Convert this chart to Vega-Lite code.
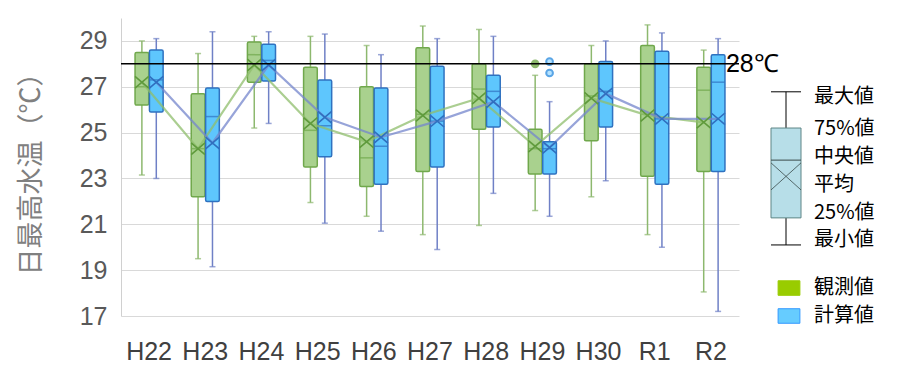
{
  "$schema": "https://vega.github.io/schema/vega-lite/v6.json",
  "padding": {"left": 17, "top": 18, "right": 0, "bottom": 0},
  "background": "white",
  "bounds": "flush",
  "spacing": 20,
  "config": {"view": {"stroke": null}},
  "datasets": {
    "stats": [
      {"year": "H22", "series": "観測値", "min": 23.15, "q1": 26.2, "median": 27.0, "q3": 28.5, "max": 29.0, "mean": 27.2},
      {"year": "H22", "series": "計算値", "min": 23.0, "q1": 25.9, "median": 27.3, "q3": 28.6, "max": 29.1, "mean": 27.2},
      {"year": "H23", "series": "観測値", "min": 19.5, "q1": 22.2, "median": 24.3, "q3": 26.7, "max": 28.45, "mean": 24.3},
      {"year": "H23", "series": "計算値", "min": 19.15, "q1": 22.0, "median": 25.7, "q3": 26.95, "max": 29.4, "mean": 24.55},
      {"year": "H24", "series": "観測値", "min": 25.2, "q1": 27.2, "median": 28.4, "q3": 28.95, "max": 29.2, "mean": 27.95},
      {"year": "H24", "series": "計算値", "min": 25.4, "q1": 27.25, "median": 28.15, "q3": 28.85, "max": 29.4, "mean": 27.95},
      {"year": "H25", "series": "観測値", "min": 21.95, "q1": 23.5, "median": 25.1, "q3": 27.85, "max": 29.2, "mean": 25.4},
      {"year": "H25", "series": "計算値", "min": 21.05, "q1": 23.95, "median": 25.3, "q3": 27.3, "max": 29.3, "mean": 25.67},
      {"year": "H26", "series": "観測値", "min": 21.35, "q1": 22.65, "median": 23.9, "q3": 27.0, "max": 28.8, "mean": 24.6},
      {"year": "H26", "series": "計算値", "min": 20.7, "q1": 22.75, "median": 24.4, "q3": 26.95, "max": 28.4, "mean": 24.8},
      {"year": "H27", "series": "観測値", "min": 20.55, "q1": 23.3, "median": 25.8, "q3": 28.7, "max": 29.65, "mean": 25.75},
      {"year": "H27", "series": "計算値", "min": 19.9, "q1": 23.5, "median": 25.5, "q3": 27.9, "max": 29.1, "mean": 25.5},
      {"year": "H28", "series": "観測値", "min": 20.95, "q1": 25.15, "median": 26.9, "q3": 28.0, "max": 29.5, "mean": 26.5},
      {"year": "H28", "series": "計算値", "min": 22.35, "q1": 25.25, "median": 26.8, "q3": 27.5, "max": 29.2, "mean": 26.35},
      {"year": "H29", "series": "観測値", "min": 21.6, "q1": 23.2, "median": 24.3, "q3": 25.15, "max": 27.5, "mean": 24.4},
      {"year": "H29", "series": "計算値", "min": 21.35, "q1": 23.2, "median": 24.3, "q3": 24.6, "max": 26.35, "mean": 24.35},
      {"year": "H30", "series": "観測値", "min": 22.2, "q1": 24.65, "median": 26.6, "q3": 28.0, "max": 28.8, "mean": 26.5},
      {"year": "H30", "series": "計算値", "min": 22.9, "q1": 25.25, "median": 26.8, "q3": 28.1, "max": 29.0, "mean": 26.7},
      {"year": "R1", "series": "観測値", "min": 20.55, "q1": 23.1, "median": 25.8, "q3": 28.8, "max": 29.7, "mean": 25.75},
      {"year": "R1", "series": "計算値", "min": 20.0, "q1": 22.75, "median": 25.6, "q3": 28.55, "max": 29.35, "mean": 25.6},
      {"year": "R2", "series": "観測値", "min": 18.05, "q1": 23.3, "median": 26.85, "q3": 27.85, "max": 28.6, "mean": 25.45},
      {"year": "R2", "series": "計算値", "min": 17.2, "q1": 23.3, "median": 27.2, "q3": 28.4, "max": 29.1, "mean": 25.6}
    ],
    "outliers": [
      {"year": "H29", "series": "観測値", "value": 28.0},
      {"year": "H29", "series": "計算値", "value": 28.1},
      {"year": "H29", "series": "計算値", "value": 27.6}
    ],
    "keylabels": [
      {"label": "最大値", "v": 26.56},
      {"label": "75%値", "v": 25.16},
      {"label": "中央値", "v": 23.94},
      {"label": "平均", "v": 22.72},
      {"label": "25%値", "v": 21.5},
      {"label": "最小値", "v": 20.3}
    ],
    "keyseries": [
      {"series": "観測値", "v": 18.22},
      {"series": "計算値", "v": 17.0}
    ]
  },
  "hconcat": [
    {
      "width": 618,
      "height": 298,
      "data": {"name": "stats"},
      "encoding": {
        "x": {
          "field": "year", "type": "nominal", "sort": null,
          "scale": {"paddingInner": 0.5, "paddingOuter": 0.25},
          "axis": {"title": null, "ticks": false, "domain": false, "labelAngle": 0, "labelFont": "Liberation Sans", "labelFontSize": 25, "labelColor": "#404040", "labelPadding": 23}
        },
        "xOffset": {"field": "series", "type": "nominal", "scale": {"domain": ["観測値", "計算値"], "paddingInner": 0.05}}
      },
      "layer": [
        {
          "mark": {"type": "rule", "strokeWidth": 1.5},
          "encoding": {
            "y": {
              "field": "min", "type": "quantitative",
              "scale": {"domain": [17, 30], "nice": false, "zero": false},
              "axis": {"values": [17, 19, 21, 23, 25, 27, 29], "title": "日最高水温（℃）", "titleFont": "Noto Sans CJK JP", "titleFontSize": 27, "titleFontWeight": "normal", "titleColor": "#808080", "titlePadding": 34, "labelFont": "Liberation Sans", "labelFontSize": 25, "labelColor": "#595959", "labelPadding": 14, "ticks": false, "domainColor": "#d0d0d0", "gridColor": "#d9d9d9", "gridWidth": 1.2}
            },
            "y2": {"field": "max"},
            "stroke": {"field": "series", "type": "nominal", "scale": {"domain": ["観測値", "計算値"], "range": ["#8db86e", "#6f80c6"]}, "legend": null}
          }
        },
        {
          "mark": {"type": "tick", "size": 6, "thickness": 1.5},
          "encoding": {
            "y": {"field": "max", "type": "quantitative"},
            "color": {"field": "series", "type": "nominal", "scale": {"domain": ["観測値", "計算値"], "range": ["#8db86e", "#6f80c6"]}, "legend": null}
          }
        },
        {
          "mark": {"type": "tick", "size": 6, "thickness": 1.5},
          "encoding": {
            "y": {"field": "min", "type": "quantitative"},
            "color": {"field": "series", "type": "nominal", "scale": {"domain": ["観測値", "計算値"], "range": ["#8db86e", "#6f80c6"]}, "legend": null}
          }
        },
        {
          "mark": {"type": "bar", "strokeWidth": 1.5, "cornerRadius": 1.5},
          "encoding": {
            "y": {"field": "q1", "type": "quantitative"},
            "y2": {"field": "q3"},
            "fill": {"field": "series", "type": "nominal", "scale": {"domain": ["観測値", "計算値"], "range": ["#a9d18e", "#5ec6fd"]}, "legend": null},
            "stroke": {"field": "series", "type": "nominal", "scale": {"domain": ["観測値", "計算値"], "range": ["#70a84c", "#2f72c0"]}, "legend": null}
          }
        },
        {
          "mark": {"type": "tick", "size": 13, "thickness": 1.5},
          "encoding": {
            "y": {"field": "median", "type": "quantitative"},
            "color": {"field": "series", "type": "nominal", "scale": {"domain": ["観測値", "計算値"], "range": ["#70a84c", "#2f72c0"]}, "legend": null}
          }
        },
        {
          "mark": {"type": "line", "strokeWidth": 2.2, "opacity": 0.75},
          "encoding": {
            "y": {"field": "mean", "type": "quantitative"},
            "stroke": {"field": "series", "type": "nominal", "scale": {"domain": ["観測値", "計算値"], "range": ["#8fbe6c", "#7486cc"]}, "legend": null}
          }
        },
        {
          "mark": {"type": "point", "shape": "M-1,-0.85L1,0.85M-1,0.85L1,-0.85", "size": 190, "filled": false, "strokeWidth": 1.6, "opacity": 1},
          "encoding": {
            "y": {"field": "mean", "type": "quantitative"},
            "stroke": {"field": "series", "type": "nominal", "scale": {"domain": ["観測値", "計算値"], "range": ["#5f9a3c", "#2f6fbf"]}, "legend": null}
          }
        },
        {
          "data": {"name": "outliers"},
          "mark": {"type": "point", "shape": "circle", "size": 45, "strokeWidth": 2, "opacity": 1},
          "encoding": {
            "y": {"field": "value", "type": "quantitative"},
            "fill": {"field": "series", "type": "nominal", "scale": {"domain": ["観測値", "計算値"], "range": ["#8db86e", "#b6e3ff"]}, "legend": null},
            "stroke": {"field": "series", "type": "nominal", "scale": {"domain": ["観測値", "計算値"], "range": ["#8db86e", "#5aa5e6"]}, "legend": null}
          }
        },
        {
          "data": {"values": [{}]},
          "mark": {"type": "rule", "color": "black", "strokeWidth": 1.5},
          "encoding": {"y": {"datum": 28}, "x": null, "xOffset": null}
        },
        {
          "data": {"values": [{}]},
          "mark": {"type": "text", "text": "28℃", "align": "left", "baseline": "middle", "font": "Liberation Sans", "fontSize": 25, "color": "black", "dx": 15, "dy": 0},
          "encoding": {"x": {"datum": "R2"}, "y": {"datum": 28}, "xOffset": null}
        }
      ],
      "resolve": {"scale": {"stroke": "independent", "color": "independent", "fill": "independent"}}
    },
    {
      "width": 130,
      "height": 298,
      "data": {"values": [{}]},
      "layer": [
        {
          "mark": {"type": "rule", "color": "black", "strokeWidth": 1},
          "encoding": {
            "x": {"datum": 27, "type": "quantitative", "scale": {"domain": [0, 130]}, "axis": null},
            "y": {"datum": 20.1, "type": "quantitative", "scale": {"domain": [17, 30], "nice": false, "zero": false}, "axis": null},
            "y2": {"datum": 26.78}
          }
        },
        {
          "mark": {"type": "rule", "color": "black", "strokeWidth": 1},
          "encoding": {"x": {"datum": 12}, "x2": {"datum": 42}, "y": {"datum": 26.78}}
        },
        {
          "mark": {"type": "rule", "color": "black", "strokeWidth": 1},
          "encoding": {"x": {"datum": 12}, "x2": {"datum": 42}, "y": {"datum": 20.1}}
        },
        {
          "mark": {"type": "rect", "fill": "#b7dee8", "stroke": "#5e8586", "strokeWidth": 1},
          "encoding": {"x": {"datum": 12}, "x2": {"datum": 42}, "y": {"datum": 21.28}, "y2": {"datum": 25.2}}
        },
        {
          "mark": {"type": "rule", "color": "#3a4a4a", "strokeWidth": 1},
          "encoding": {"x": {"datum": 12}, "x2": {"datum": 42}, "y": {"datum": 23.8}}
        },
        {
          "mark": {"type": "rule", "color": "#3a4a4a", "strokeWidth": 0.8},
          "encoding": {"x": {"datum": 12}, "x2": {"datum": 42}, "y": {"datum": 23.68}, "y2": {"datum": 22.5}}
        },
        {
          "mark": {"type": "rule", "color": "#3a4a4a", "strokeWidth": 0.8},
          "encoding": {"x": {"datum": 12}, "x2": {"datum": 42}, "y": {"datum": 22.5}, "y2": {"datum": 23.68}}
        },
        {
          "data": {"name": "keylabels"},
          "mark": {"type": "text", "align": "left", "baseline": "middle", "font": "Noto Sans CJK JP", "fontSize": 20, "color": "black"},
          "encoding": {"x": {"datum": 55}, "y": {"field": "v", "type": "quantitative"}, "text": {"field": "label"}}
        },
        {
          "data": {"name": "keyseries"},
          "mark": {"type": "point", "shape": "M-1.2,-0.8L1.2,-0.8L1.2,0.8L-1.2,0.8Z", "filled": true, "size": 330, "strokeWidth": 1, "opacity": 1},
          "encoding": {
            "x": {"datum": 30},
            "y": {"field": "v", "type": "quantitative"},
            "fill": {"field": "series", "type": "nominal", "scale": {"domain": ["観測値", "計算値"], "range": ["#99cc00", "#66ccff"]}, "legend": null},
            "stroke": {"field": "series", "type": "nominal", "scale": {"domain": ["観測値", "計算値"], "range": ["#99cc00", "#3399ff"]}, "legend": null}
          }
        },
        {
          "data": {"name": "keyseries"},
          "mark": {"type": "text", "align": "left", "baseline": "middle", "font": "Noto Sans CJK JP", "fontSize": 20, "color": "black"},
          "encoding": {"x": {"datum": 55}, "y": {"field": "v", "type": "quantitative"}, "text": {"field": "series"}}
        }
      ]
    }
  ]
}
